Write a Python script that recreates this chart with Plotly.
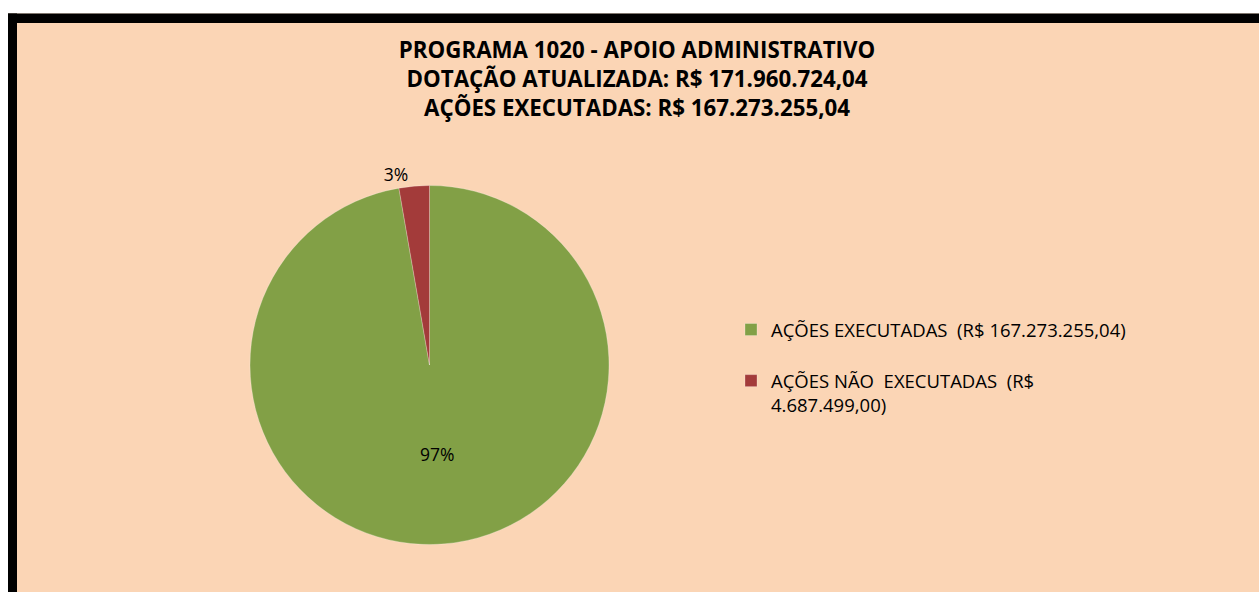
import plotly.graph_objects as go

labels = ["AÇÕES EXECUTADAS  (R$ 167.273.255,04)", "AÇÕES NÃO  EXECUTADAS  (R$<br>4.687.499,00)"]
values = [167273255.04, 4687499.00]
colors = ["#82A046", "#A33B3A"]
title_lines = ["PROGRAMA 1020 - APOIO ADMINISTRATIVO",
               "DOTAÇÃO ATUALIZADA: R$ 171.960.724,04",
               "AÇÕES EXECUTADAS: R$ 167.273.255,04"]

W, H = 1259, 592
font_family = "'Open Sans', Lato, sans-serif"
bg = "#FBD5B5"

legend_labels = [labels[0] + "<br> ", labels[1]]

fig = go.Figure()
fig.add_trace(go.Pie(
    labels=legend_labels,
    values=values,
    sort=False,
    direction="clockwise",
    rotation=0,
    marker=dict(colors=colors, line=dict(color="rgba(255,255,255,0.25)", width=1)),
    texttemplate="%{percent:.0%}",
    textposition=["inside", "outside"],
    textfont=dict(family=font_family, size=17.5, color="#000000"),
    insidetextorientation="horizontal",
    hoverinfo="label+percent",
    domain=dict(x=[250 / W, 609 / W], y=[(H - 545) / H, (H - 185) / H]),
    showlegend=True,
))

fig.update_layout(
    width=W, height=H,
    margin=dict(l=0, r=0, t=0, b=0),
    paper_bgcolor=bg,
    plot_bgcolor="rgba(0,0,0,0)",
    title=dict(
        text="<b>" + "<br>".join(title_lines) + "</b>",
        x=0.506, xanchor="center",
        y=1 - 58 / H, yanchor="middle",
        font=dict(family=font_family, size=22.3, color="#000000"),
    ),
    legend=dict(
        x=731 / W, xanchor="left",
        y=1 - 311 / H, yanchor="top",
        valign="top",
        bgcolor="rgba(0,0,0,0)",
        font=dict(family=font_family, size=18.5, color="#000000"),
        itemwidth=30,
    ),
    shapes=[
        # white page area outside the chart frame
        dict(type="rect", xref="paper", yref="paper", x0=-0.1, x1=1.1,
             y0=1 - 13.5 / H, y1=1.1, fillcolor="#FFFFFF", line=dict(width=0), layer="below"),
        dict(type="rect", xref="paper", yref="paper", x0=-0.1, x1=8 / W,
             y0=-0.1, y1=1.1, fillcolor="#FFFFFF", line=dict(width=0), layer="below"),
        # black frame (top and left edges visible)
        dict(type="rect", xref="paper", yref="paper", x0=8 / W, x1=1.1,
             y0=1 - 23 / H, y1=1 - 13.5 / H, fillcolor="#000000", line=dict(width=0), layer="below"),
        dict(type="rect", xref="paper", yref="paper", x0=8 / W, x1=17 / W,
             y0=-0.1, y1=1 - 13.5 / H, fillcolor="#000000", line=dict(width=0), layer="below"),
    ],
)

fig.write_html("out.html", config={"displayModeBar": False},
               post_script="document.body.style.margin='0';document.body.style.overflow='hidden';")
